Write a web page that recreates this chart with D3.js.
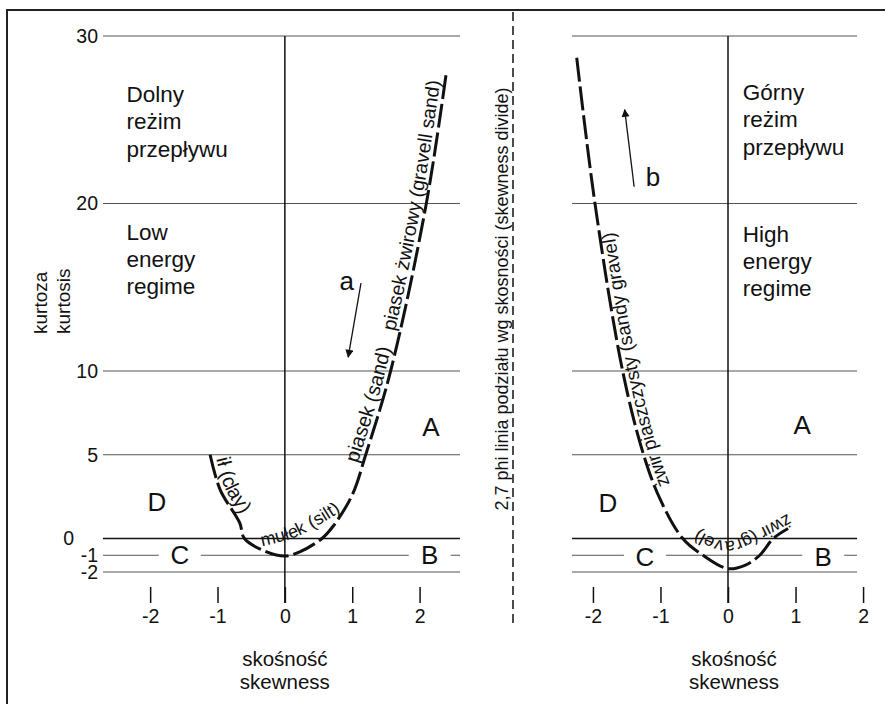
<!DOCTYPE html>
<html>
<head>
<meta charset="utf-8">
<script src="https://cdn.jsdelivr.net/npm/d3@7"></script>
<style>
  body { margin: 0; background: #fff; }
  text { font-family: "Liberation Sans", Arial, sans-serif; fill: #111; }
</style>
</head>
<body>
<svg id="chart" width="885" height="704"></svg>
<script>
// ---- data ----
const kurtTicks = [30, 20, 10, 5, 0, -1, -2];
const skewTicks = [-2, -1, 0, 1, 2];

// low-energy regime trend (skewness vs kurtosis)
const lowSkew = [-1.11, -0.96, -0.67, -0.6, -0.27, 0, 0.22, 0.55, 0.71, 1.0, 1.2, 1.57, 2.1, 2.4];
const lowKurt = [5, 2.9, 0.93, 0, -0.8, -1.05, -0.8, 0, 0.7, 2.6, 5, 10, 20, 27.9];

// high-energy regime trend
const highSkew = [-2.24, -1.97, -1.56, -1.25, -1.0, -0.67, -0.37, 0, 0.25, 0.47, 0.67, 0.89];
const highKurt = [28.7, 20, 10, 5, 2.3, 0, -1, -1.8, -1.6, -1, 0, 0.6];

const regimeLow = ["Dolny", "reżim", "przepływu"];
const energyLow = ["Low", "energy", "regime"];
const regimeHigh = ["Górny", "reżim", "przepływu"];
const energyHigh = ["High", "energy", "regime"];
const fieldLetters = ["A", "B", "C", "D"];
const lowLabels = ["ił (clay)", "mułek (silt)", "piasek (sand)", "piasek żwirowy (gravell sand)"];
const highLabels = ["żwir (gravel)", "żwir piaszczysty (sandy gravel)"];
const divideLabel = "2,7 phi linia podziału wg skosności (skewness divide)";
const axisXTitle = ["skośność", "skewness"];
const axisYTitle = ["kurtoza", "kurtosis"];

// ---- layout ----
const GRID = "#555";
const svg = d3.select("#chart");
const y = d3.scaleLinear().domain([-2, 30]).range([572, 36]);
const xLow = d3.scaleLinear().domain([-2.7, 2.6]).range([103, 460]);
const xHigh = d3.scaleLinear().domain([-2.31, 1.91]).range([572, 857]);

const defs = svg.append("defs");
defs.append("marker")
  .attr("id", "arrow").attr("viewBox", "0 0 10 10")
  .attr("refX", 9).attr("refY", 5)
  .attr("markerWidth", 10).attr("markerHeight", 8)
  .attr("markerUnits", "userSpaceOnUse")
  .attr("orient", "auto")
  .append("path").attr("d", "M0,0 L10,5 L0,10 Z").attr("fill", "#111");

// one text element per line, lines stacked downwards from the first baseline
function textLines(g, px, py, lines, size, opts = {}) {
  [].concat(lines).forEach((ln, i) => {
    const t = g.append("text")
      .attr("x", px).attr("y", py + i * (opts.lh || 0))
      .attr("font-size", size)
      .attr("text-anchor", opts.anchor || "start")
      .text(ln);
    if (opts.central) t.attr("dominant-baseline", "central");
  });
}

function rotatedText(g, px, py, str, size, anchor) {
  g.append("text")
    .attr("transform", `translate(${px},${py}) rotate(-90)`)
    .attr("font-size", size)
    .attr("text-anchor", anchor)
    .text(str);
}

// outer frame (runs off the right and bottom edges)
svg.append("path")
  .attr("d", "M7,720 L7,10 L900,10")
  .attr("fill", "none").attr("stroke", "#222").attr("stroke-width", 2);

// skewness divide
svg.append("line")
  .attr("x1", 513).attr("x2", 513).attr("y1", 12).attr("y2", 623)
  .attr("stroke", "#111").attr("stroke-width", 1.5)
  .attr("stroke-dasharray", "9,5");
rotatedText(svg, 508, 299, divideLabel, 18, "middle");

function lengthNear(node, px, py) {
  const L = node.getTotalLength();
  let best = 0, bd = Infinity;
  for (let s = 0; s <= L; s += 0.5) {
    const p = node.getPointAtLength(s);
    const d = (p.x - px) ** 2 + (p.y - py) ** 2;
    if (d < bd) { bd = d; best = s; }
  }
  return best;
}

function panel(cfg) {
  const x = cfg.x;
  const g = svg.append("g");

  // kurtosis reference lines
  kurtTicks.forEach(k => {
    const [a, b] = x.range();
    if (k === -1) {
      // leave room for the C and B field letters
      const gaps = cfg.letters.filter(l => Math.abs(l.k + 1) < 0.3)
        .map(l => x(l.s)).sort((p, q) => p - q);
      let start = a;
      gaps.forEach(cx => {
        g.append("line").attr("x1", start).attr("x2", cx - 21)
          .attr("y1", y(k)).attr("y2", y(k)).attr("stroke", GRID).attr("stroke-width", 1);
        start = cx + 21;
      });
      g.append("line").attr("x1", start).attr("x2", b)
        .attr("y1", y(k)).attr("y2", y(k)).attr("stroke", GRID).attr("stroke-width", 1);
    } else {
      g.append("line").attr("x1", a).attr("x2", b)
        .attr("y1", y(k)).attr("y2", y(k))
        .attr("stroke", k === 0 ? "#111" : GRID)
        .attr("stroke-width", k === 0 ? 1.6 : 1);
    }
  });

  // zero-skewness axis
  g.append("line").attr("x1", x(0)).attr("x2", x(0))
    .attr("y1", y(30)).attr("y2", 603)
    .attr("stroke", "#111").attr("stroke-width", 1.5);

  // skewness ticks
  const ax = g.append("g").attr("transform", "translate(0,587)")
    .call(d3.axisBottom(x).tickValues(skewTicks).tickSize(16).tickPadding(6)
      .tickFormat(d => String(d)));
  ax.select(".domain").remove();
  ax.selectAll("line").attr("stroke", "#111").attr("stroke-width", 1.5);
  ax.selectAll("text").attr("font-size", 19.5).attr("fill", "#111")
    .style("font-family", "Liberation Sans, Arial, sans-serif");

  // axis title
  textLines(g, x(0) + cfg.titleShift, 666, axisXTitle, 20.5, { anchor: "middle", lh: 23 });

  // regime captions
  textLines(g, x(cfg.regimeAt[0]), y(cfg.regimeAt[1]), cfg.regime, 22.5, { lh: 27.5 });
  textLines(g, x(cfg.energyAt[0]), y(cfg.energyAt[1]), cfg.energy, 22.5, { lh: 27 });

  // field letters
  cfg.letters.forEach(l => {
    textLines(g, x(l.s), y(l.k), l.t, 26, { anchor: "middle", central: true });
  });

  // trend curve
  const pts = cfg.skew.map((s, i) => [s, cfg.kurt[i]]);
  const line = d3.line().x(d => x(d[0])).y(d => y(d[1])).curve(d3.curveCatmullRom.alpha(0.5));
  g.append("path").attr("d", line(pts))
    .attr("fill", "none").attr("stroke", "#111").attr("stroke-width", 3)
    .attr("stroke-dasharray", "24,5");

  // curve labels: set along the trend (or a gentler guide near the trough)
  const mainGuide = cfg.reverse ? pts.slice().reverse() : pts;
  cfg.labels.forEach((lb, i) => {
    const gpts = lb.guide || mainGuide;
    const id = cfg.id + i;
    const d = line(gpts);
    defs.append("path").attr("id", id).attr("d", d);
    let off = lb.offset || 0;
    if (lb.at) {
      const probe = svg.append("path").attr("d", d).attr("fill", "none").attr("stroke", "none");
      off = lengthNear(probe.node(), x(lb.at[0]), y(lb.at[1]));
      probe.remove();
    }
    g.append("text").attr("font-size", lb.size).attr("dy", lb.dy)
      .append("textPath").attr("href", "#" + id)
      .attr("startOffset", off).text(lb.t);
  });

  // trend arrow and letter
  g.append("line")
    .attr("x1", x(cfg.arrow[0][0])).attr("y1", y(cfg.arrow[0][1]))
    .attr("x2", x(cfg.arrow[1][0])).attr("y2", y(cfg.arrow[1][1]))
    .attr("stroke", "#111").attr("stroke-width", 1.3)
    .attr("marker-end", "url(#arrow)");
  textLines(g, x(cfg.arrowTag.at[0]), y(cfg.arrowTag.at[1]), cfg.arrowTag.t, 26,
    { anchor: "middle", central: true });
}

panel({
  x: xLow, id: "lowGuide", reverse: false, titleShift: 0,
  skew: lowSkew, kurt: lowKurt,
  regime: regimeLow, regimeAt: [-2.35, 26.06],
  energy: energyLow, energyAt: [-2.35, 17.8],
  letters: [
    { t: fieldLetters[0], s: 2.17, k: 6.66 },
    { t: fieldLetters[1], s: 2.15, k: -1 },
    { t: fieldLetters[2], s: -1.56, k: -1 },
    { t: fieldLetters[3], s: -1.9, k: 2.18 }
  ],
  labels: [
    { t: lowLabels[0], at: [-1.07, 4.7], dy: -5, size: 20 },
    { t: lowLabels[1], guide: [[-0.34, -0.45], [0.2, 0.15], [0.98, 2.0]], offset: 0, dy: 0, size: 18 },
    { t: lowLabels[2], at: [1.13, 4.4], dy: -5, size: 20 },
    { t: lowLabels[3], at: [1.7, 12.3], dy: -5, size: 19.5 }
  ],
  arrow: [[1.13, 15.25], [0.94, 10.83]],
  arrowTag: { t: "a", at: [0.92, 15.4] }
});

panel({
  x: xHigh, id: "highGuide", reverse: true, titleShift: 6,
  skew: highSkew, kurt: highKurt,
  regime: regimeHigh, regimeAt: [0.22, 26.2],
  energy: energyHigh, energyAt: [0.22, 17.7],
  letters: [
    { t: fieldLetters[0], s: 1.1, k: 6.8 },
    { t: fieldLetters[1], s: 1.41, k: -1.1 },
    { t: fieldLetters[2], s: -1.23, k: -1.1 },
    { t: fieldLetters[3], s: -1.78, k: 2.1 }
  ],
  labels: [
    { t: highLabels[0], guide: [[0.93, 1.6], [0.47, 0.6], [0, -0.15], [-0.41, 0.45], [-0.8, 1.7]], offset: 4, dy: 0, size: 18 },
    { t: highLabels[1], at: [-1.08, 2.9], dy: 15, size: 19 }
  ],
  arrow: [[-1.39, 21.0], [-1.53, 25.6]],
  arrowTag: { t: "b", at: [-1.11, 21.6] }
});

// kurtosis tick labels (left panel only)
const ay = svg.append("g").attr("transform", "translate(103,0)")
  .call(d3.axisLeft(y).tickValues(kurtTicks).tickSize(0).tickPadding(5).tickFormat(d => String(d)));
ay.select(".domain").remove();
ay.selectAll("text").attr("font-size", 19.5).attr("fill", "#111")
  .style("font-family", "Liberation Sans, Arial, sans-serif")
  .attr("dx", d => d === 0 ? -24 : 0);

// kurtosis title
rotatedText(svg, 47, 334, axisYTitle[0], 19, "start");
rotatedText(svg, 70, 334, axisYTitle[1], 19, "start");
</script>
</body>
</html>
